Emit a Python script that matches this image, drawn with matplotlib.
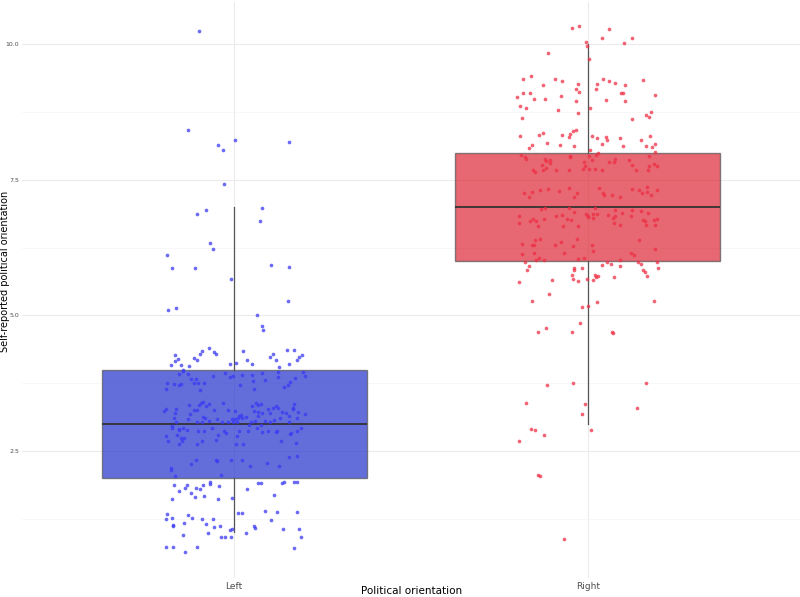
import matplotlib
matplotlib.use("Agg")
import matplotlib.pyplot as plt
from matplotlib.ticker import MultipleLocator

# categories and box statistics
groups = ["Left", "Right"]
q1 = [2.0, 6.0]
median = [3.0, 7.0]
q3 = [4.0, 8.0]
whisker_lo = [1.0, 3.0]
whisker_hi = [7.0, 10.0]

# jittered points: horizontal offset from the category centre, and value
left_dx = [
    -0.099, -0.130, 0.001, -0.047, -0.031, 0.155, -0.029, -0.104, -0.081, 0.079,
    0.073, -0.067, -0.060, -0.191, -0.175, -0.111, 0.105, 0.155, -0.010, 0.151,
    -0.186, -0.165, 0.065, 0.079, 0.081,
    -0.070, -0.091, -0.096, -0.057, -0.052, -0.168, -0.159, -0.114, -0.106, -0.168,
    -0.179, -0.149, -0.129, 0.025, 0.037, 0.051, -0.013, 0.004, 0.102, 0.109,
    0.119, 0.149, 0.170, 0.193, 0.183, 0.179, 0.156, 0.126, -0.145,
    -0.155, -0.144, -0.132, -0.121, -0.107, -0.190, -0.193, -0.169, -0.155, -0.150,
    -0.114, -0.102, -0.084, -0.097, -0.059, -0.025, -0.011, -0.004, 0.022, 0.016,
    0.049, 0.052, 0.056, 0.080, 0.088, 0.123, 0.125, 0.141, 0.153, 0.158,
    0.171, 0.196, 0.199,
    -0.198, -0.192, -0.164, -0.168, -0.169, -0.164, -0.175, -0.175, -0.193, -0.187,
    -0.157, -0.155, -0.144, -0.133, -0.162, -0.150, -0.148, -0.142, -0.157, -0.128,
    -0.125, -0.131, -0.114, -0.104, -0.100, -0.094, -0.088, -0.079, -0.071, -0.088,
    -0.083, -0.071, -0.104, -0.090, -0.103, -0.084, -0.090, -0.105, -0.064, -0.058,
    -0.048, -0.034, -0.031, -0.029, -0.023, -0.046, -0.051, -0.018, -0.017, -0.006,
    -0.003, 0.002, 0.003, 0.008, 0.011, 0.015, 0.020, 0.023, 0.013, 0.008,
    0.006, 0.025, 0.034, 0.040, 0.042, 0.047, 0.051, 0.056, 0.058, 0.063,
    0.067, 0.068, 0.067, 0.077, 0.079, 0.076, 0.065, 0.080, 0.088, 0.097,
    0.095, 0.102, 0.109, 0.113, 0.102, 0.119, 0.125, 0.118, 0.121, 0.130,
    0.134, 0.133, 0.147, 0.155, 0.155, 0.165, 0.168, 0.167, 0.180, 0.177,
    0.200, 0.158, 0.162, 0.178, 0.189, 0.174, 0.156, 0.178, -0.108, -0.121,
    -0.180, -0.178, -0.166, -0.050, -0.049, -0.010, 0.023, 0.046, 0.094, 0.127,
    -0.037,
    -0.170, -0.134, -0.157, -0.138, -0.122, -0.107, -0.098, -0.112, -0.087, -0.084,
    -0.069, -0.069, -0.042, -0.047, -0.005, 0.035, 0.068, 0.076, 0.112, 0.134,
    0.142, 0.170, 0.179, -0.177, -0.189, -0.193, -0.177, -0.173, -0.174, -0.142,
    -0.132, -0.118, -0.090, -0.081, -0.060, -0.056, -0.073, -0.040, -0.036, -0.025,
    -0.011, -0.006, -0.008, -0.146, 0.012, 0.023, 0.034, 0.056, 0.059, 0.086,
    0.103, 0.121, 0.138, 0.179, 0.182, 0.190, -0.192, -0.172, -0.138, -0.105,
    0.169,
]
left_y = [
    10.24, 8.42, 8.23, 8.14, 8.05, 8.20, 7.42, 6.87, 6.94, 6.98,
    6.73, 6.33, 6.22, 6.11, 5.87, 5.87, 5.92, 5.90, 5.67, 5.27,
    5.09, 5.14, 5.00, 4.81, 4.73,
    4.39, 4.35, 4.29, 4.32, 4.29, 4.26, 4.20, 4.22, 4.17, 4.16,
    4.08, 4.09, 4.07, 4.34, 4.18, 4.11, 4.10, 4.12, 4.24, 4.28,
    4.18, 4.37, 4.37, 4.27, 4.24, 4.18, 4.10, 4.05, 3.99,
    3.91, 3.98, 3.91, 3.83, 3.83, 3.75, 3.65, 3.74, 3.72, 3.74,
    3.75, 3.75, 3.76, 3.62, 3.89, 3.93, 3.86, 3.89, 3.90, 3.71,
    3.90, 3.79, 3.65, 3.94, 3.81, 3.95, 3.87, 3.68, 3.71, 3.78,
    3.85, 3.95, 3.89,
    3.23, 3.28, 3.28, 3.20, 3.11, 3.04, 2.96, 2.93, 2.77, 2.68,
    2.90, 2.88, 2.93, 2.89, 2.79, 2.73, 2.69, 2.74, 2.62, 3.35,
    3.18, 3.08, 3.26, 3.25, 3.35, 3.38, 3.40, 3.33, 3.37, 3.13,
    3.11, 3.06, 3.03, 3.03, 2.86, 2.86, 2.69, 2.63, 2.93, 3.26,
    3.09, 3.04, 3.38, 2.86, 2.83, 2.79, 2.70, 3.04, 3.26, 3.09,
    3.03, 3.24, 3.09, 3.04, 3.10, 3.15, 3.16, 3.10, 2.87, 2.77,
    2.63, 2.63, 3.13, 2.87, 2.97, 3.04, 3.32, 3.23, 3.06, 3.38,
    3.35, 3.22, 3.14, 3.37, 3.20, 2.98, 2.92, 2.85, 3.06, 2.86,
    3.28, 3.20, 3.30, 3.07, 3.04, 3.32, 3.30, 2.85, 2.87, 3.11,
    3.21, 2.68, 3.20, 3.14, 3.03, 3.30, 3.37, 3.28, 3.21, 3.11,
    3.18, 2.81, 2.84, 2.86, 2.92, 2.65, 2.39, 2.40, 2.34, 2.26,
    2.19, 2.15, 2.04, 2.34, 2.32, 2.33, 2.33, 2.23, 2.28, 2.22,
    2.06,
    1.87, 1.88, 1.76, 1.82, 1.73, 1.81, 1.80, 1.65, 1.88, 1.67,
    1.93, 1.89, 1.85, 1.62, 1.63, 1.80, 1.91, 1.91, 1.69, 1.91,
    1.93, 1.93, 1.93, 1.61, 1.34, 1.25, 1.27, 1.14, 1.12, 1.17,
    1.32, 1.27, 1.25, 1.15, 1.25, 1.09, 0.99, 1.12, 0.92, 0.92,
    1.04, 1.06, 0.92, 0.95, 1.36, 1.35, 0.99, 1.12, 1.08, 1.40,
    1.23, 1.38, 1.06, 1.38, 1.07, 0.92, 0.73, 0.73, 0.64, 0.73,
    0.72,
]

right_dx = [
    -0.045, -0.026, 0.060, 0.039, 0.124, 0.102, -0.006, -0.003, 0.003, -0.113,
    -0.184, -0.160, -0.126, -0.093, -0.073, -0.027, -0.034, -0.025, 0.043, 0.060,
    0.078, 0.025, 0.023, 0.105, 0.155, -0.183, -0.164, -0.199, -0.153, -0.121,
    -0.075, -0.033, 0.051, 0.095, 0.099, 0.105, 0.189, -0.192, -0.176, -0.083,
    0.006, -0.027, -0.186, 0.180, 0.165, 0.172, 0.126, -0.191, -0.138, -0.126,
    -0.073, -0.053, -0.049, -0.043, -0.033, 0.012, 0.025, 0.051, 0.053, 0.090,
    0.100, 0.151, 0.176, 0.165, 0.182, 0.189, -0.157, -0.166, -0.116, -0.078,
    -0.040, 0.040, 0.006, 0.028, 0.023, 0.191,
    -0.190, -0.179, -0.176, -0.121, -0.117, -0.106, -0.106, -0.130, -0.119, -0.126,
    -0.156, -0.148, -0.091, -0.053, -0.050, -0.050, -0.011, -0.008, -0.013, 0.003,
    0.013, 0.020, 0.040, 0.003, 0.059, 0.073, 0.076, 0.116, 0.126, 0.135,
    0.173, 0.173, 0.187, 0.196, 0.170, -0.181, -0.166, -0.159, -0.134, -0.114,
    -0.082, -0.052, -0.030, -0.038, 0.032, 0.042, 0.046, 0.067, 0.091, 0.126,
    0.144, 0.153, 0.166, 0.168, 0.195, 0.180,
    -0.195, -0.194, -0.164, -0.155, -0.147, -0.141, -0.131, -0.122, -0.123, -0.090,
    -0.073, -0.071, -0.060, -0.052, -0.047, -0.040, -0.028, -0.004, 0.000, 0.001,
    0.014, 0.016, 0.021, 0.025, 0.057, 0.071, 0.078, 0.075, 0.077, 0.090,
    0.096, 0.122, 0.126, 0.150, 0.155, 0.161, 0.164, 0.169, 0.186, 0.189,
    0.196, -0.186, -0.186, -0.158, -0.150, -0.151, -0.134, -0.153, -0.138, -0.147,
    -0.124, -0.093, -0.077, -0.066, -0.042, -0.032, -0.028, -0.011, 0.011, 0.014,
    0.144, 0.121, 0.131, 0.189, 0.091,
    -0.177, -0.167, -0.172, -0.195, -0.102, -0.109, -0.159, -0.142, -0.117, -0.044,
    -0.040, -0.038, -0.017, -0.045, -0.043, -0.027, -0.002, 0.015, 0.019, 0.023,
    0.028, 0.040, 0.054, 0.066, 0.074, 0.090, 0.141, 0.151, 0.155, 0.161,
    0.168, 0.197, 0.198, -0.017, 0.000, 0.025, -0.023, 0.069, 0.071, 0.188,
    -0.115, -0.042, 0.164, -0.176, -0.008, -0.016, 0.140, -0.161, -0.148, -0.123,
    -0.196, 0.010, -0.142, -0.136, -0.067,
]
right_y = [
    10.29, 10.33, 10.28, 10.12, 10.12, 10.02, 10.03, 9.97, 9.73, 9.83,
    9.36, 9.42, 9.24, 9.36, 9.32, 9.26, 9.18, 9.12, 9.35, 9.32,
    9.29, 9.26, 9.18, 9.24, 9.34, 9.10, 9.09, 9.02, 8.99, 8.99,
    9.05, 8.96, 8.97, 9.09, 9.09, 8.95, 9.06, 8.85, 8.82, 8.78,
    8.83, 8.73, 8.63, 8.74, 8.70, 8.65, 8.62, 8.31, 8.33, 8.37,
    8.33, 8.29, 8.35, 8.40, 8.41, 8.31, 8.26, 8.28, 8.24, 8.26,
    8.13, 8.24, 8.31, 8.13, 8.11, 8.16, 8.14, 8.08, 8.17, 8.14,
    8.12, 8.16, 8.04, 7.99, 7.96, 8.02,
    7.95, 7.91, 7.88, 7.88, 7.85, 7.86, 7.81, 7.78, 7.71, 7.68,
    7.68, 7.65, 7.67, 7.68, 7.94, 7.91, 7.83, 7.76, 7.69, 7.69,
    7.86, 7.69, 7.67, 7.94, 7.83, 7.83, 7.88, 7.86, 7.77, 7.67,
    7.93, 7.76, 7.79, 7.76, 7.68, 7.25, 7.18, 7.27, 7.31, 7.32,
    7.29, 7.34, 7.26, 7.19, 7.35, 7.25, 7.21, 7.22, 7.18, 7.32,
    7.31, 7.25, 7.27, 7.37, 7.31, 7.22,
    6.83, 6.71, 6.74, 6.78, 6.73, 6.64, 6.96, 6.97, 6.77, 6.83,
    6.85, 6.64, 6.78, 6.97, 6.76, 6.90, 6.64, 6.87, 6.83, 6.81,
    6.86, 6.80, 6.97, 6.87, 6.85, 6.80, 6.83, 6.70, 6.94, 6.67,
    6.88, 6.83, 6.95, 6.93, 6.75, 6.73, 6.66, 6.89, 6.76, 6.66,
    6.78, 6.31, 6.13, 6.29, 6.39, 6.30, 6.41, 6.15, 6.06, 6.02,
    6.02, 6.29, 6.35, 6.14, 6.27, 6.41, 6.04, 6.06, 6.29, 6.18,
    6.39, 6.14, 6.11, 6.22, 6.02,
    5.99, 5.91, 5.83, 5.61, 5.65, 5.40, 5.27, 4.69, 4.76, 4.69,
    5.87, 5.84, 5.88, 5.75, 5.67, 5.64, 5.67, 5.65, 5.75, 5.70,
    5.72, 5.92, 5.99, 5.94, 5.70, 5.91, 5.99, 5.94, 5.83, 5.80,
    5.72, 5.99, 5.88, 5.16, 5.17, 5.25, 4.86, 4.69, 4.68, 5.27,
    3.72, 3.76, 3.75, 3.38, 3.36, 3.18, 3.29, 2.90, 2.88, 2.80,
    2.69, 2.88, 2.06, 2.04, 0.87,
]

box_colors = ["#2331CD", "#DE2736"]
point_colors = ["#3A3AF2", "#EE2F45"]

fig = plt.figure(figsize=(8, 5.97), dpi=100)
ax = fig.add_axes([0.0275, 0.032, 0.9725, 0.965])

stats = []
for i, g in enumerate(groups):
    stats.append({"label": g, "q1": q1[i], "med": median[i], "q3": q3[i],
                  "whislo": whisker_lo[i], "whishi": whisker_hi[i], "fliers": []})

bp = ax.bxp(stats, positions=[1, 2], widths=0.75, patch_artist=True,
            showcaps=False, showfliers=False,
            boxprops=dict(edgecolor="#555555", linewidth=1.0),
            whiskerprops=dict(color="#555555", linewidth=0.9),
            medianprops=dict(color="#333333", linewidth=1.3))
for patch, c in zip(bp["boxes"], box_colors):
    patch.set_facecolor(c)
    patch.set_alpha(0.7)
    patch.set_edgecolor("#555555")
for part in bp["boxes"] + bp["whiskers"] + bp["medians"]:
    part.set_zorder(2)

xs_left = [1 + d for d in left_dx]
xs_right = [2 + d for d in right_dx]
ax.scatter(xs_left, left_y, s=7, color=point_colors[0], alpha=0.75,
           linewidths=0, zorder=3)
ax.scatter(xs_right, right_y, s=7, color=point_colors[1], alpha=0.75,
           linewidths=0, zorder=3)

ax.set_xlim(0.4, 2.6)
ax.set_ylim(0.16, 10.78)
ax.set_xticks([1, 2])
ax.set_xticklabels(groups)
ax.yaxis.set_major_locator(MultipleLocator(2.5))
ax.yaxis.set_minor_locator(MultipleLocator(1.25))
ax.yaxis.set_major_formatter(matplotlib.ticker.FormatStrFormatter("%.1f"))

ax.grid(True, which="major", color="#EBEBEB", linewidth=0.8, zorder=0)
ax.grid(True, which="minor", axis="y", color="#F4F4F4", linewidth=0.5, zorder=0)
ax.set_axisbelow(True)
for s in ax.spines.values():
    s.set_visible(False)
ax.tick_params(axis="both", which="both", length=0)
ax.tick_params(axis="y", labelsize=4.5, labelcolor="#4D4D4D", pad=2)
ax.tick_params(axis="x", labelsize=6.5, labelcolor="#4D4D4D", pad=3)

# axis titles placed in figure coordinates so they fit the tight margins
fig.text(0.514, 0.002, "Political orientation", fontsize=7.5,
         ha="center", va="bottom")
fig.text(0.0, 0.545, "Self-reported political orientation", fontsize=7,
         rotation=90, ha="left", va="center")

fig.savefig("out.png", dpi=100)
